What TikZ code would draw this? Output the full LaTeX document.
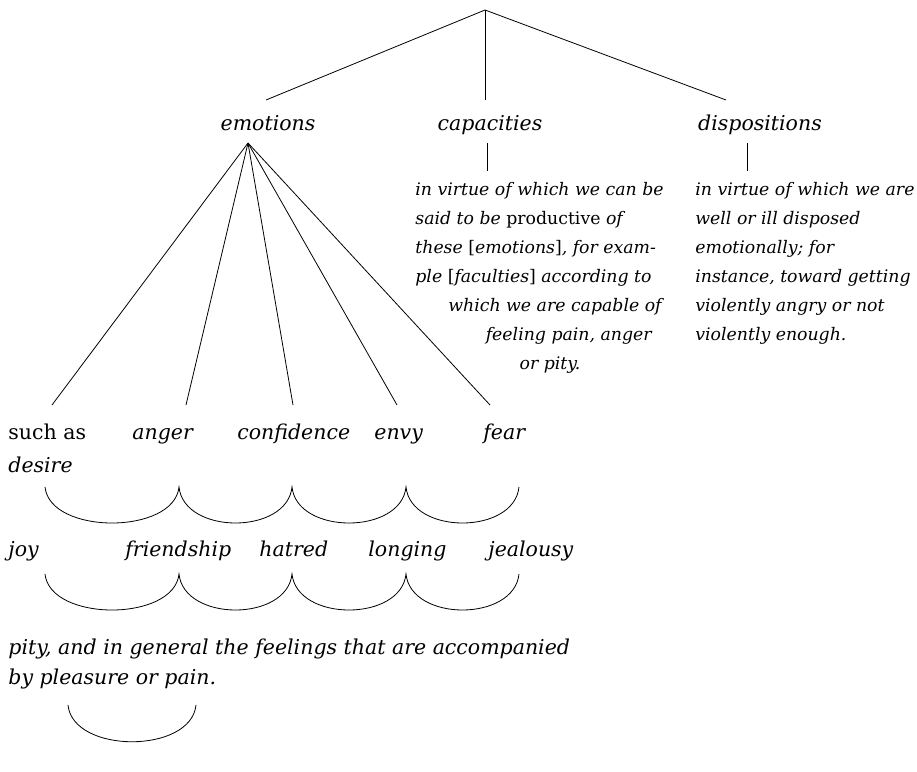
\documentclass[tikz,border=0pt]{standalone}
\usepackage{fontspec}
\setmainfont{DejaVu Serif}
\begin{document}
\begin{tikzpicture}[x=1pt,y=-1pt, line width=0.8pt,
  lbl/.style={inner sep=0pt, anchor=base west, font=\fontsize{20.5}{24}\selectfont\itshape},
  head/.style={lbl, anchor=base},
  blk/.style={inner sep=0pt, anchor=base west, font=\fontsize{17.3}{24}\selectfont\itshape},
  blkr/.style={blk, anchor=base east},
  blkc/.style={blk, anchor=base},
  link/.style={draw, line width=0.8pt},
]
\useasboundingbox (0,0) rectangle (917,771);
% top tree
\coordinate (top) at (485,10);
\node[head] (emo) at (268,130) {emotions};
\node[head] (cap) at (490,130) {capacities};
\node[head] (dis) at (760,130) {dispositions};
\coordinate (emoT) at (266,100);
\coordinate (capT) at (485,100);
\coordinate (disT) at (726,100);
\draw[link] (top) -- (emoT);
\draw[link] (top) -- (capT);
\draw[link] (top) -- (disT);
% capacities block
\coordinate (capA) at (487,143);
\coordinate (capB) at (487,171);
\draw[link] (capA) -- (capB);
\node[blk] (c1) at (415,195) {in virtue of which we can be};
\node[blk] (c2) at (415,224) {said to be {\upshape productive} of};
\node[blk] (c3) at (415,253) {these {\upshape[}emotions{\upshape]}, for exam-};
\node[blk] (c4) at (415,282) {ple {\upshape[}faculties{\upshape]} according to};
\node[blkr] (c5) at (662,311) {which we are capable of};
\node[blkr] (c6) at (652,340) {feeling pain, anger};
\node[blkc] (c7) at (550,369) {or pity.};
% dispositions block
\coordinate (disA) at (747,143);
\coordinate (disB) at (747,171);
\draw[link] (disA) -- (disB);
\node[blk] (d1) at (695,195) {in virtue of which we are};
\node[blk] (d2) at (695,224) {well or ill disposed};
\node[blk] (d3) at (695,253) {emotionally; for};
\node[blk] (d4) at (695,282) {instance, toward getting};
\node[blk] (d5) at (695,311) {violently angry or not};
\node[blk] (d6) at (695,340) {violently enough.};
% emotions fan
\coordinate (emoB) at (248,143);
\coordinate (f1) at (52,405);
\coordinate (f2) at (186,405);
\coordinate (f3) at (293,405);
\coordinate (f4) at (397,405);
\coordinate (f5) at (490,405);
\foreach \f in {f1,f2,f3,f4,f5} \draw[link] (emoB) -- (\f);
% row 1
\node[lbl] (r1a) at (8,439) {\upshape such as};
\node[lbl] (r1b) at (132,439) {anger};
\node[lbl] (r1c) at (237,439) {confidence};
\node[lbl] (r1d) at (374,439) {envy};
\node[lbl] (r1e) at (483,439) {fear};
\node[lbl] (r1f) at (8,472) {desire};
\coordinate (a1) at (45,487);
\coordinate (a2) at (179,487);
\coordinate (a3) at (292,487);
\coordinate (a4) at (406,487);
\coordinate (a5) at (519,487);
\draw[link] (a1) .. controls (50,535) and (174,535) .. (a2)
                 .. controls (184,535) and (287,535) .. (a3)
                 .. controls (297,535) and (401,535) .. (a4)
                 .. controls (411,535) and (514,535) .. (a5);
% row 2
\node[lbl] (r2a) at (8,556) {joy};
\node[lbl] (r2b) at (125,556) {friendship};
\node[lbl] (r2c) at (259,556) {hatred};
\node[lbl] (r2d) at (368,556) {longing};
\node[lbl] (r2e) at (488,556) {jealousy};
\coordinate (b1) at (45,574);
\coordinate (b2) at (179,574);
\coordinate (b3) at (292,574);
\coordinate (b4) at (406,574);
\coordinate (b5) at (519,574);
\draw[link] (b1) .. controls (50,622) and (174,622) .. (b2)
                 .. controls (184,622) and (287,622) .. (b3)
                 .. controls (297,622) and (401,622) .. (b4)
                 .. controls (411,622) and (514,622) .. (b5);
% row 3
\node[lbl] (r3a) at (8,654) {pity, and in general the feelings that are accompanied};
\node[lbl] (r3b) at (8,684) {by pleasure or pain.};
\coordinate (p1) at (68,705);
\coordinate (p2) at (196,705);
\draw[link] (p1) .. controls (73,754) and (191,754) .. (p2);
\end{tikzpicture}
\end{document}
